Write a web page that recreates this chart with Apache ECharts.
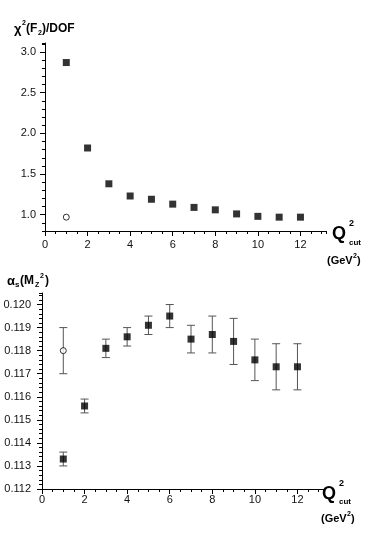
<!DOCTYPE html>
<html><head><meta charset="utf-8">
<script src="https://cdn.jsdelivr.net/npm/echarts@6/dist/echarts.min.js"></script>
<style>html,body{margin:0;padding:0;background:#fff}#c{width:374px;height:538px}</style>
</head><body><div id="c"></div>
<script>
// ---- data ----
const chiX = [1, 2, 3, 4, 5, 6, 7, 8, 9, 10, 11, 12];
const chiVals = [2.87, 1.82, 1.38, 1.23, 1.19, 1.13, 1.09, 1.06, 1.01, 0.98, 0.97, 0.97];
const chiOpenX = [1];
const chiOpenVals = [0.97];

const alphaX = [1, 2, 3, 4, 5, 6, 7, 8, 9, 10, 11, 12];
const alphaVals = [0.1133, 0.1156, 0.1181, 0.1186, 0.1191, 0.1195, 0.1185, 0.1187, 0.1184, 0.1176, 0.1173, 0.1173];
const alphaErr  = [0.0003, 0.0003, 0.0004, 0.0004, 0.0004, 0.0005, 0.0006, 0.0008, 0.0010, 0.0009, 0.0010, 0.0010];
const alphaOpenX = [1];
const alphaOpenVals = [0.1180];
const alphaOpenErr = [0.0010];

const xTickLabels = [0, 2, 4, 6, 8, 10, 12];
const chiTickLabels = [1.0, 1.5, 2.0, 2.5, 3.0];
const alphaTickLabels = [0.112, 0.113, 0.114, 0.115, 0.116, 0.117, 0.118, 0.119, 0.120];

// ---- chart ----
const FONT = 'Liberation Sans, Arial, sans-serif';
const chart = echarts.init(document.getElementById('c'), null, {renderer: 'canvas'});

function near(v, list) { return list.some(t => Math.abs(t - v) < 1e-7); }

const X_MAX = 13.2;
const CHI_MIN = 0.8, CHI_MAX = 3.11;
const A_MIN = 0.112, A_MAX = 0.1205;

function xAxisDef(gridIndex, margin) {
  return {
    type: 'value', gridIndex, min: 0, max: X_MAX, interval: 0.5, position: 'bottom',
    axisLine: {lineStyle: {color: '#000', width: 1}},
    axisTick: {show: true, length: 3, lineStyle: {color: '#000'}},
    splitLine: {show: false},
    axisLabel: {
      margin, fontFamily: FONT, fontSize: 11, color: '#111',
      formatter: v => near(v, xTickLabels) ? String(Math.round(v)) : ''
    }
  };
}
function xMajorDef(gridIndex) {
  return {
    type: 'value', gridIndex, min: 0, max: X_MAX, position: 'bottom',
    axisLine: {show: false}, splitLine: {show: false}, axisLabel: {show: false},
    axisTick: {show: true, length: 5, lineStyle: {color: '#000'}, customValues: xTickLabels}
  };
}
function yMajorDef(gridIndex, min, max, vals) {
  return {
    type: 'value', gridIndex, min, max, position: 'left',
    axisLine: {show: false}, splitLine: {show: false}, axisLabel: {show: false},
    axisTick: {show: true, length: 5, lineStyle: {color: '#000'}, customValues: vals}
  };
}

const errData = alphaX.map((x, i) => [x, alphaVals[i] - alphaErr[i], alphaVals[i] + alphaErr[i]]);
const errOpenData = alphaOpenX.map((x, i) => [x, alphaOpenVals[i] - alphaOpenErr[i], alphaOpenVals[i] + alphaOpenErr[i]]);

function errRender(params, api) {
  const x = api.value(0), lo = api.value(1), hi = api.value(2);
  const a = api.coord([x, lo]), b = api.coord([x, hi]);
  const w = 4;
  const st = {stroke: '#555', lineWidth: 1};
  return {type: 'group', children: [
    {type: 'line', shape: {x1: a[0], y1: a[1], x2: b[0], y2: b[1]}, style: st},
    {type: 'line', shape: {x1: a[0] - w, y1: a[1], x2: a[0] + w, y2: a[1]}, style: st},
    {type: 'line', shape: {x1: b[0] - w, y1: b[1], x2: b[0] + w, y2: b[1]}, style: st}
  ]};
}

const txt = (x, y, text, size, extra) => ({
  type: 'text', x, y,
  style: Object.assign({text, fontFamily: FONT, fontSize: size, fontWeight: 'bold', fill: '#000',
    textVerticalAlign: 'middle', verticalAlign: 'middle'}, extra || {})
});

chart.setOption({
  animation: false,
  backgroundColor: '#fff',
  grid: [
    {left: 45, top: 43, width: 281, height: 188},
    {left: 42, top: 293, width: 281, height: 196}
  ],
  xAxis: [xAxisDef(0, 8), xAxisDef(1, 5), xMajorDef(0), xMajorDef(1)],
  yAxis: [
    {
      type: 'value', gridIndex: 0, min: CHI_MIN, max: CHI_MAX, interval: 0.1, position: 'left',
      axisLine: {show: true, lineStyle: {color: '#000'}},
      axisTick: {show: true, length: 3, lineStyle: {color: '#000'}},
      splitLine: {show: false},
      axisLabel: {margin: 9, fontFamily: FONT, fontSize: 11, color: '#111',
        formatter: v => near(v, chiTickLabels) ? v.toFixed(1) : ''}
    },
    {
      type: 'value', gridIndex: 1, min: A_MIN, max: A_MAX, interval: 0.0002, position: 'left',
      axisLine: {show: true, lineStyle: {color: '#000'}},
      axisTick: {show: true, length: 3, lineStyle: {color: '#000'}},
      splitLine: {show: false},
      axisLabel: {margin: 11, fontFamily: FONT, fontSize: 11, color: '#111',
        formatter: v => near(v, alphaTickLabels) ? v.toFixed(3) : ''}
    },
    yMajorDef(0, CHI_MIN, CHI_MAX, chiTickLabels),
    yMajorDef(1, A_MIN, A_MAX, alphaTickLabels)
  ],
  series: [
    {type: 'scatter', xAxisIndex: 0, yAxisIndex: 0, symbol: 'rect', symbolSize: 7,
      itemStyle: {color: '#000'}, data: chiX.map((x, i) => [x, chiVals[i]])},
    {type: 'scatter', xAxisIndex: 0, yAxisIndex: 0, symbol: 'circle', symbolSize: 6,
      itemStyle: {color: '#fff', borderColor: '#000', borderWidth: 1},
      data: chiOpenX.map((x, i) => [x, chiOpenVals[i]])},
    {type: 'custom', xAxisIndex: 1, yAxisIndex: 1, renderItem: errRender, z: 1,
      encode: {x: 0, y: [1, 2]}, data: errData},
    {type: 'custom', xAxisIndex: 1, yAxisIndex: 1, renderItem: errRender, z: 1,
      encode: {x: 0, y: [1, 2]}, data: errOpenData},
    {type: 'scatter', xAxisIndex: 1, yAxisIndex: 1, symbol: 'rect', symbolSize: 7, z: 3,
      itemStyle: {color: '#000'}, data: alphaX.map((x, i) => [x, alphaVals[i]])},
    {type: 'scatter', xAxisIndex: 1, yAxisIndex: 1, symbol: 'circle', symbolSize: 6, z: 3,
      itemStyle: {color: '#fff', borderColor: '#000', borderWidth: 1},
      data: alphaOpenX.map((x, i) => [x, alphaOpenVals[i]])}
  ],
  graphic: [
    // top title: χ²(F₂)/DOF
    txt(14, 29, 'χ', 13),
    txt(22, 23, '2', 7),
    txt(26, 29, '(F', 12),
    txt(38, 33, '2', 7),
    txt(42, 29, ')/DOF', 12),
    // top x-axis name
    txt(332, 234, 'Q', 18),
    txt(349, 224, '2', 9),
    txt(349, 243, 'cut', 8),
    txt(327, 261, '(GeV', 11),
    txt(353, 256, '2', 7),
    txt(357, 261, ')', 11),
    // bottom title: αs(MZ²)
    txt(7, 281, 'α', 13),
    txt(15, 285, 's', 8),
    txt(20, 281, '(M', 12),
    txt(35, 285, 'Z', 7),
    txt(40, 276, '2', 7),
    txt(45, 281, ')', 12),
    // bottom x-axis name
    txt(322, 494, 'Q', 18),
    txt(339, 484, '2', 9),
    txt(339, 502, 'cut', 8),
    txt(321, 519, '(GeV', 11),
    txt(347, 514, '2', 7),
    txt(351, 519, ')', 11)
  ]
});
</script>
</body></html>
